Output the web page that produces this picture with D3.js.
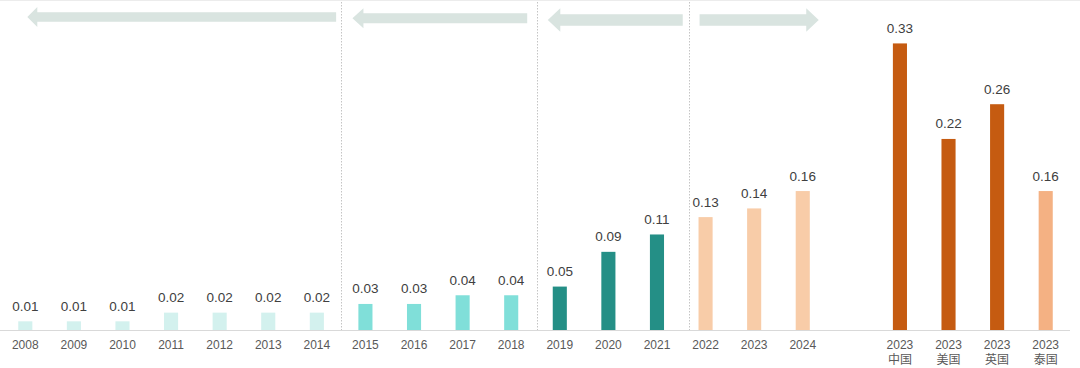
<!DOCTYPE html>
<html>
<head>
<meta charset="utf-8">
<script src="https://cdn.jsdelivr.net/npm/d3@7"></script>
<style>
  html, body { margin: 0; padding: 0; background: #fff; }
  svg { display: block; font-family: "Liberation Sans", Arial, sans-serif; }
</style>
</head>
<body>
<svg id="chart" width="1080" height="368"></svg>
<script>
// ---- data ----
const categories = ["2008","2009","2010","2011","2012","2013","2014",
  "2015","2016","2017","2018",
  "2019","2020","2021",
  "2022","2023","2024",
  "gap",
  "2023中国","2023美国","2023英国","2023泰国"];
const yearLabels = ["2008","2009","2010","2011","2012","2013","2014",
  "2015","2016","2017","2018",
  "2019","2020","2021",
  "2022","2023","2024",
  "",
  "2023","2023","2023","2023"];
const subLabels = ["","","","","","","","","","","","","","","","","","",
  "中国","美国","英国","泰国"];
const values = [0.01,0.01,0.01,0.02,0.02,0.02,0.02,
  0.03,0.03,0.04,0.04,
  0.05,0.09,0.11,
  0.13,0.14,0.16,
  null,
  0.33,0.22,0.26,0.16];
const valueLabels = ["0.01","0.01","0.01","0.02","0.02","0.02","0.02",
  "0.03","0.03","0.04","0.04",
  "0.05","0.09","0.11",
  "0.13","0.14","0.16",
  "",
  "0.33","0.22","0.26","0.16"];
const groups = [0,0,0,0,0,0,0, 1,1,1,1, 2,2,2, 3,3,3, -1, 4,4,4,5];
const groupColors = ["#d3f1ee","#80dfd9","#248f86","#f8cca8","#c55b11","#f4b183"];
// arrows: [first category, last category, direction]
const arrowSpans = [["2008","2014","left"],["2015","2018","left"],["2019","2021","left"],["2022","2024","right"]];
const separatorsAfter = ["2014","2018","2021"];

// ---- scales ----
const svg = d3.select("#chart");
const baseY = 330;
const x = d3.scaleBand().domain(categories).range([1, 1070]).paddingInner(0.71).paddingOuter(0.355);
const y = d3.scaleLinear().domain([0, 0.38]).range([baseY, 0]);
const step = x.step();
const cx = c => x(c) + x.bandwidth() / 2;

// top faint border
svg.append("line").attr("x1",0).attr("x2",1080).attr("y1",0.5).attr("y2",0.5)
  .attr("stroke","#ececec").attr("stroke-width",1);

// separators
separatorsAfter.forEach((c, i) => {
  const xs = i === 2 ? cx(c) + step * 0.66 : cx(c) + step / 2 + (i === 1 ? 1 : 0);
  svg.append("line")
    .attr("x1", Math.round(xs) + 0.5).attr("x2", Math.round(xs) + 0.5)
    .attr("y1", 2).attr("y2", baseY)
    .attr("stroke", "#c4c4c4").attr("stroke-width", 1)
    .attr("stroke-dasharray", "1.5,1.5");
});

// arrows
const arrowColor = "#d9e4e0";
const arrowDefs = [
  {l: cx("2008") + 2, r: cx("2014") + step/2 - 5, cy: 17, sh: 9.5, hh: 20, hl: 10},
  {l: cx("2015") - 13, r: cx("2018") + 16, cy: 18.3, sh: 10, hh: 20, hl: 11},
  {l: cx("2019") - 12, r: cx("2021") + step * 0.53, cy: 20, sh: 11.4, hh: 23.4, hl: 12.5},
  {l: cx("2022") - 6, r: cx("2024") + 16, cy: 20, sh: 11.4, hh: 23.4, hl: 12.5}
];
arrowSpans.forEach((a, i) => {
  const d = arrowDefs[i];
  let pts;
  if (a[2] === "left") {
    pts = [[d.l, d.cy], [d.l + d.hl, d.cy - d.hh/2], [d.l + d.hl, d.cy - d.sh/2], [d.r, d.cy - d.sh/2],
           [d.r, d.cy + d.sh/2], [d.l + d.hl, d.cy + d.sh/2], [d.l + d.hl, d.cy + d.hh/2]];
  } else {
    pts = [[d.r, d.cy], [d.r - d.hl, d.cy - d.hh/2], [d.r - d.hl, d.cy - d.sh/2], [d.l, d.cy - d.sh/2],
           [d.l, d.cy + d.sh/2], [d.r - d.hl, d.cy + d.sh/2], [d.r - d.hl, d.cy + d.hh/2]];
  }
  svg.append("polygon").attr("points", pts.map(p => p.join(",")).join(" ")).attr("fill", arrowColor);
});

// bars
const data = categories.map((c, i) => ({c, v: values[i], g: groups[i], lbl: valueLabels[i], yl: yearLabels[i], sl: subLabels[i]}))
  .filter(d => d.v !== null);

svg.append("g").selectAll("rect").data(data).join("rect")
  .attr("x", d => x(d.c))
  .attr("width", x.bandwidth())
  .attr("y", d => y(d.v))
  .attr("height", d => baseY - y(d.v))
  .attr("fill", d => groupColors[d.g]);

// value labels
svg.append("g").selectAll("text").data(data).join("text")
  .attr("x", d => cx(d.c))
  .attr("y", d => y(d.v) - 10.5)
  .attr("text-anchor", "middle")
  .attr("font-size", 13.5)
  .attr("fill", "#404040")
  .text(d => d.lbl);

// axis line
svg.append("line").attr("x1", 0).attr("x2", 1070).attr("y1", baseY + 0.5).attr("y2", baseY + 0.5)
  .attr("stroke", "#d9d9d9").attr("stroke-width", 1.2);

// axis labels
svg.append("g").selectAll("text").data(data).join("text")
  .attr("x", d => cx(d.c))
  .attr("y", baseY + 19)
  .attr("text-anchor", "middle")
  .attr("font-size", 12)
  .attr("fill", "#595959")
  .text(d => d.yl);
svg.append("g").selectAll("text").data(data.filter(d => d.sl)).join("text")
  .attr("x", d => cx(d.c))
  .attr("y", baseY + 34)
  .attr("text-anchor", "middle")
  .attr("font-size", 12)
  .attr("font-family", "'Noto Sans CJK SC', sans-serif")
  .attr("fill", "#595959")
  .text(d => d.sl);
</script>
</body>
</html>
